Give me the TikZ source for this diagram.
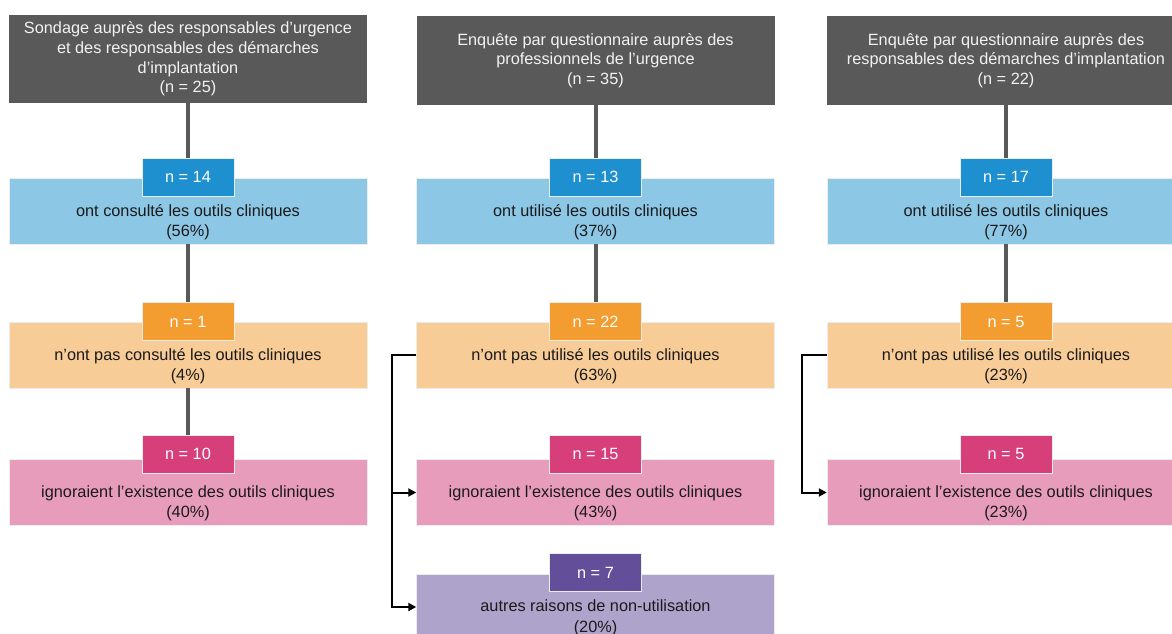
\documentclass[tikz,border=0pt]{standalone}
\usepackage{fontspec}
\setmainfont{Liberation Sans}
\usetikzlibrary{arrows.meta}
\definecolor{hdrgray}{HTML}{595959}
\definecolor{bluedk}{HTML}{1E90D0}
\definecolor{bluelt}{HTML}{8DC7E6}
\definecolor{orgdk}{HTML}{F39C2F}
\definecolor{orglt}{HTML}{F8CC97}
\definecolor{pnkdk}{HTML}{D63F7A}
\definecolor{pnklt}{HTML}{E89CBB}
\definecolor{purdk}{HTML}{634E9A}
\definecolor{purlt}{HTML}{AEA3CB}
\definecolor{txtdk}{HTML}{1A1A1A}
\tikzset{
  hdr/.style={fill=hdrgray, text=white!95!black, minimum width=358pt, minimum height=88pt, inner sep=0pt, align=center, font=\fontsize{16.3}{19.6}\selectfont},
  bigbox/.style={minimum width=358pt, minimum height=66pt, inner sep=0pt, draw=white!85!gray, line width=0.5pt},
  badge/.style={minimum width=92pt, minimum height=38pt, inner sep=0pt, text=white, draw=white!85!gray, line width=0.5pt, font=\fontsize{16.3}{19.6}\selectfont},
  boxtxt/.style={align=center, text=txtdk, inner sep=0pt, font=\fontsize{16.3}{20.5}\selectfont},
  gline/.style={draw=hdrgray, line width=4pt},
  brk/.style={draw=black, line width=2pt, -{Triangle[length=8pt,width=8pt]}}
}
\begin{document}
\begin{tikzpicture}[x=1pt,y=-1pt]
\useasboundingbox (0,0) rectangle (1172,634);
% ---------- column 1 ----------
\node[hdr] (h1) at (188,59) {\raisebox{-1.5pt}{\parbox{358pt}{\centering Sondage auprès des responsables d’urgence\\et des responsables des démarches\\d’implantation\\(n = 25)}}};
\node[bigbox, fill=bluelt] (c1a) at (188,211) {};
\node[boxtxt] (t1a) at (188,222) {ont consulté les outils cliniques\\(56\%)};
\node[badge, fill=bluedk] (n1a) at (188,177) {n = 14};
\node[bigbox, fill=orglt] (c1b) at (188,355) {};
\node[boxtxt] (t1b) at (188,366) {n’ont pas consulté les outils cliniques\\(4\%)};
\node[badge, fill=orgdk] (n1b) at (188,321.5) {n = 1};
\node[bigbox, fill=pnklt] (c1c) at (188,492.5) {};
\node[boxtxt] (t1c) at (188,503.5) {ignoraient l’existence des outils cliniques\\(40\%)};
\node[badge, fill=pnkdk] (n1c) at (188,454) {n = 10};
\draw[gline] (h1.south) -- (n1a.north);
\draw[gline] (c1a.south) -- (n1b.north);
\draw[gline] (c1b.south) -- (n1c.north);
% ---------- column 2 ----------
\node[hdr] (h2) at (595.5,60.5) {Enquête par questionnaire auprès des\\professionnels de l’urgence\\(n = 35)};
\node[bigbox, fill=bluelt] (c2a) at (595.5,211) {};
\node[boxtxt] (t2a) at (595.5,222) {ont utilisé les outils cliniques\\(37\%)};
\node[badge, fill=bluedk] (n2a) at (595.5,177) {n = 13};
\node[bigbox, fill=orglt] (c2b) at (595.5,355) {};
\node[boxtxt] (t2b) at (595.5,366) {n’ont pas utilisé les outils cliniques\\(63\%)};
\node[badge, fill=orgdk] (n2b) at (595.5,321.5) {n = 22};
\node[bigbox, fill=pnklt] (c2c) at (595.5,492.5) {};
\node[boxtxt] (t2c) at (595.5,503.5) {ignoraient l’existence des outils cliniques\\(43\%)};
\node[badge, fill=pnkdk] (n2c) at (595.5,454) {n = 15};
\node[bigbox, fill=purlt] (c2d) at (595.5,607) {};
\node[boxtxt] (t2d) at (595.5,618) {autres raisons de non-utilisation\\(20\%)};
\node[badge, fill=purdk] (n2d) at (595.5,572.5) {n = 7};
\draw[gline] (h2.south) -- (n2a.north);
\draw[gline] (c2a.south) -- (n2b.north);
\draw[brk] (c2b.west) -- ++(-24,0) |- (c2c.west);
\draw[brk] (c2b.west) -- ++(-24,0) |- (c2d.west);
% ---------- column 3 ----------
\node[hdr] (h3) at (1006,60.5) {Enquête par questionnaire auprès des\\responsables des démarches d’implantation\\(n = 22)};
\node[bigbox, fill=bluelt] (c3a) at (1006,211) {};
\node[boxtxt] (t3a) at (1006,222) {ont utilisé les outils cliniques\\(77\%)};
\node[badge, fill=bluedk] (n3a) at (1006,177) {n = 17};
\node[bigbox, fill=orglt] (c3b) at (1006,355) {};
\node[boxtxt] (t3b) at (1006,366) {n’ont pas utilisé les outils cliniques\\(23\%)};
\node[badge, fill=orgdk] (n3b) at (1006,321.5) {n = 5};
\node[bigbox, fill=pnklt] (c3c) at (1006,492.5) {};
\node[boxtxt] (t3c) at (1006,503.5) {ignoraient l’existence des outils cliniques\\(23\%)};
\node[badge, fill=pnkdk] (n3c) at (1006,454) {n = 5};
\draw[gline] (h3.south) -- (n3a.north);
\draw[gline] (c3a.south) -- (n3b.north);
\draw[brk] (c3b.west) -- ++(-25,0) |- (c3c.west);
\end{tikzpicture}
\end{document}
